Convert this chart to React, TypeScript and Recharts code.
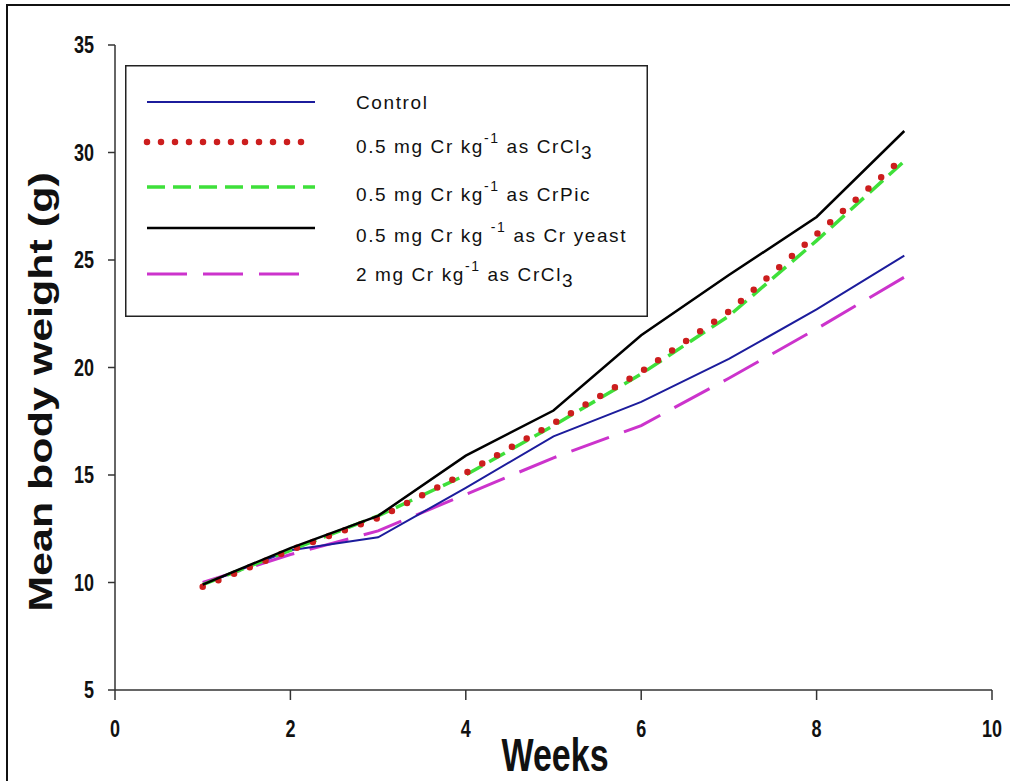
import React from 'react';
import { LineChart, Line, XAxis, YAxis, Legend } from 'recharts';

const weeks = [1, 2, 3, 4, 5, 6, 7, 8, 9];
const control = [9.9, 11.5, 12.1, 14.4, 16.8, 18.4, 20.4, 22.7, 25.2];
const crCl3 = [9.8, 11.5, 13.0, 15.1, 17.4, 19.8, 22.6, 26.2, 29.8];
const crPic = [9.9, 11.5, 13.1, 15.0, 17.3, 19.7, 22.4, 25.9, 29.6];
const crYeast = [9.9, 11.6, 13.1, 15.9, 18.0, 21.5, 24.3, 27.0, 31.0];
const crCl3High = [10.0, 11.3, 12.4, 14.1, 15.8, 17.3, 19.5, 21.8, 24.2];

const xTicks = [0, 2, 4, 6, 8, 10];
const yTicks = [5, 10, 15, 20, 25, 30, 35];

const data = weeks.map((w, i) => ({
  week: w,
  control: control[i],
  crCl3: crCl3[i],
  crPic: crPic[i],
  crYeast: crYeast[i],
  crCl3High: crCl3High[i],
}));

const FONT = '"Liberation Sans", Arial, sans-serif';

type Style = { color: string; width: number; dash?: string; legendDash?: string; cap?: 'round' | 'butt' };

const styles: Record<string, Style> = {
  control: { color: '#1c1c9c', width: 2 },
  crCl3: { color: '#cc1e1e', width: 6.5, dash: '0 17', legendDash: '0 14', cap: 'round' },
  crPic: { color: '#3ee03a', width: 3.5, dash: '18 8' },
  crYeast: { color: '#000000', width: 2.5 },
  crCl3High: { color: '#cc33cc', width: 3, dash: '40 16' },
};

// legend rows: key, main text, superscript, rest, subscript
const legendRows = [
  { key: 'control', pre: 'Control', sup: '', post: '', sub: '' },
  { key: 'crCl3', pre: '0.5 mg Cr kg', sup: '-1', post: ' as CrCl', sub: '3' },
  { key: 'crPic', pre: '0.5 mg Cr kg', sup: '-1', post: ' as CrPic', sub: '' },
  { key: 'crYeast', pre: '0.5 mg Cr kg ', sup: '-1', post: '  as Cr yeast', sub: '' },
  { key: 'crCl3High', pre: '2 mg Cr kg', sup: '-1', post: ' as CrCl', sub: '3' },
];
const lineYs = [37, 77, 122, 163, 209];
const textYs = [44, 88, 136, 177, 216];

function LegendBox() {
  return (
    <svg width={523} height={252} style={{ display: 'block' }}>
      <rect x={0.75} y={0.75} width={521.5} height={250.5} fill="#fff" stroke="#222" strokeWidth={1.5} />
      {legendRows.map((r, i) => {
        const s = styles[r.key];
        return (
          <g key={r.key}>
            <line
              x1={22}
              x2={190}
              y1={lineYs[i]}
              y2={lineYs[i]}
              stroke={s.color}
              strokeWidth={s.key === 'crCl3' ? 6 : s.width}
              strokeDasharray={s.legendDash || s.dash}
              strokeLinecap={s.cap || 'butt'}
            />
            <text x={231} y={textYs[i]} fontFamily={FONT} fontSize={19} letterSpacing={1.6} fill="#111">
              {r.pre}
              {r.sup && (
                <tspan dy={-10} fontSize={14}>
                  {r.sup}
                </tspan>
              )}
              {r.sup && <tspan dy={10}>{r.post}</tspan>}
              {r.sub && (
                <tspan dy={6} fontSize={19}>
                  {r.sub}
                </tspan>
              )}
            </text>
          </g>
        );
      })}
    </svg>
  );
}

function YTick({ x, y, payload }: any) {
  return (
    <g transform={`translate(${x},${y}) scale(0.75,1)`}>
      <text x={0} y={0} dy={8} textAnchor="end" fontFamily={FONT} fontWeight="bold" fontSize={24} fill="#111">
        {payload.value}
      </text>
    </g>
  );
}

function XTick({ x, y, payload }: any) {
  return (
    <g transform={`translate(${x},${y}) scale(0.75,1)`}>
      <text x={0} y={0} dy={37} textAnchor="middle" fontFamily={FONT} fontWeight="bold" fontSize={24} fill="#111">
        {payload.value}
      </text>
    </g>
  );
}

export default function App() {
  return (
    <div style={{ position: 'absolute', left: 0, top: 0, width: 1010, height: 781, background: '#fff', overflow: 'hidden' }}>
      <div style={{ position: 'absolute', left: 6, top: 4, width: 1010, height: 781, borderLeft: '2px solid #111', borderTop: '2px solid #111' }} />
      <LineChart width={1010} height={781} data={data} margin={{ top: 45, right: 18, bottom: 0, left: 0 }}>
        <XAxis
          dataKey="week"
          type="number"
          domain={[0, 10]}
          ticks={xTicks}
          height={91}
          tickSize={10}
          tickMargin={0}
          tick={<XTick />}
          axisLine={{ stroke: '#333', strokeWidth: 1.5 }}
          tickLine={{ stroke: '#333', strokeWidth: 1.5 }}
        />
        <YAxis
          type="number"
          domain={[5, 35]}
          ticks={yTicks}
          width={115}
          tickSize={7}
          tickMargin={14}
          tick={<YTick />}
          axisLine={{ stroke: '#333', strokeWidth: 1.5 }}
          tickLine={{ stroke: '#333', strokeWidth: 1.5 }}
        />
        <Legend
          layout="horizontal"
          verticalAlign="middle"
          align="center"
          content={() => <LegendBox />}
          wrapperStyle={{ left: 125, top: 65, width: 523, height: 252 }}
        />
        {(['crCl3High', 'control', 'crPic', 'crCl3', 'crYeast'] as const).map((k) => {
          const s = styles[k];
          return (
            <Line
              key={k}
              type="linear"
              dataKey={k}
              stroke={s.color}
              strokeWidth={s.width}
              strokeDasharray={s.dash}
              strokeLinecap={s.cap || 'butt'}
              dot={false}
              activeDot={false}
              legendType="none"
              isAnimationActive={false}
            />
          );
        })}
        <text x={555} y={771} textAnchor="middle" fontFamily={FONT} fontWeight="bold" fontSize={46} fill="#111" transform="translate(555,0) scale(0.74,1) translate(-555,0)">
          Weeks
        </text>
        <text
          fontFamily={FONT}
          fontWeight="bold"
          fontSize={43}
          fill="#111"
          textAnchor="middle"
          transform="translate(52,392) scale(0.76,1) rotate(-90)"
        >
          Mean body weight (g)
        </text>
      </LineChart>
    </div>
  );
}
